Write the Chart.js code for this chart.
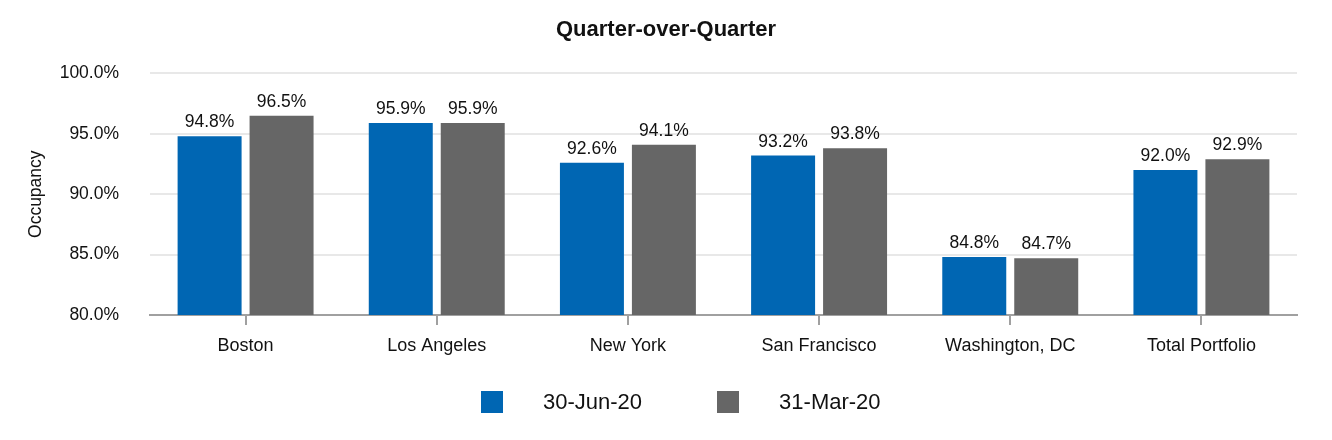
<!DOCTYPE html>
<html>
<head>
<meta charset="utf-8">
<script src="https://cdn.jsdelivr.net/npm/chart.js@4.4.1/dist/chart.umd.min.js"></script>
<style>
    body { margin: 0; background: #fff; font-family: "Liberation Sans", Arial, sans-serif; }
    #wrap { position: relative; width: 1332px; height: 440px; }
    #legend { position: absolute; left: 481px; top: 389px; display: flex; align-items: center; font-size: 22px; color: #111; }
    .item { display: flex; align-items: center; }
    .box { width: 22px; height: 22px; margin-right: 40px; }
</style>
</head>
<body>
<div id="wrap">
    <canvas id="chart" width="1332" height="440"></canvas>
    <div id="legend"></div>
</div>
<script>
const cities = ['Boston', 'Los Angeles', 'New York', 'San Francisco', 'Washington, DC', 'Total Portfolio'];
const june20 = [94.8, 95.9, 92.6, 93.2, 84.8, 92.0];
const march20 = [96.5, 95.9, 94.1, 93.8, 84.7, 92.9];
const seriesNames = ['30-Jun-20', '31-Mar-20'];
const seriesColors = ['#0066b3', '#666666'];

const FONT = '"Liberation Sans", Arial, sans-serif';

// value labels on top of each bar
const barLabels = {
    id: 'barLabels',
    afterDatasetsDraw(chart) {
        const ctx = chart.ctx;
        ctx.save();
        ctx.font = '17.5px ' + FONT;
        ctx.fillStyle = '#111';
        ctx.textAlign = 'center';
        ctx.textBaseline = 'alphabetic';
        chart.data.datasets.forEach((ds, i) => {
            chart.getDatasetMeta(i).data.forEach((bar, j) => {
                ctx.fillText(ds.data[j].toFixed(1) + '%', bar.x, bar.y - 9);
            });
        });
        ctx.restore();
    }
};

new Chart(document.getElementById('chart'), {
    type: 'bar',
    data: {
        labels: cities,
        datasets: [
            { label: seriesNames[0], data: june20, backgroundColor: seriesColors[0] },
            { label: seriesNames[1], data: march20, backgroundColor: seriesColors[1] }
        ]
    },
    options: {
        responsive: false,
        animation: false,
        categoryPercentage: 0.753,
        barPercentage: 0.889,
        layout: { padding: { left: 0, right: 0, top: 0, bottom: 75 } },
        scales: {
            x: {
                afterFit: (s) => { s.height = 50; },
                border: { color: '#a0a0a0', width: 2 },
                grid: { drawOnChartArea: false, offset: false, color: '#a0a0a0', lineWidth: 2, tickLength: 10 },
                ticks: { color: '#111', font: { family: FONT, size: 18 }, padding: 10, maxRotation: 0 }
            },
            y: {
                min: 80,
                max: 100,
                afterFit: (s) => { s.width = 150; },
                border: { display: false },
                grid: { color: '#e8e8e8', lineWidth: 2, drawTicks: false },
                ticks: {
                    stepSize: 5,
                    color: '#111',
                    padding: 31,
                    font: { family: FONT, size: 17.5 },
                    callback: (v) => v.toFixed(1) + '%'
                },
                title: {
                    display: true,
                    text: 'Occupancy',
                    color: '#111',
                    font: { family: FONT, size: 17.5 },
                    padding: { top: 26, bottom: 0 }
                }
            },
            // empty right margin so the title stays centred on the canvas
            spacer: {
                position: 'right',
                min: 80,
                max: 100,
                afterFit: (s) => { s.width = 35; },
                border: { display: false },
                grid: { display: false },
                ticks: { display: false }
            }
        },
        plugins: {
            legend: { display: false },
            tooltip: { enabled: false },
            title: {
                display: true,
                text: 'Quarter-over-Quarter',
                color: '#111',
                font: { family: FONT, size: 22, weight: 'bold' },
                padding: { top: 17, bottom: 30 }
            }
        }
    },
    plugins: [barLabels]
});

// legend below the chart
const legendEl = document.getElementById('legend');
seriesNames.forEach((name, i) => {
    const item = document.createElement('div');
    item.className = 'item';
    if (i > 0) item.style.marginLeft = '75px';
    item.innerHTML = `<span class="box" style="background:${seriesColors[i]}"></span><span>${name}</span>`;
    legendEl.appendChild(item);
});
</script>
</body>
</html>
